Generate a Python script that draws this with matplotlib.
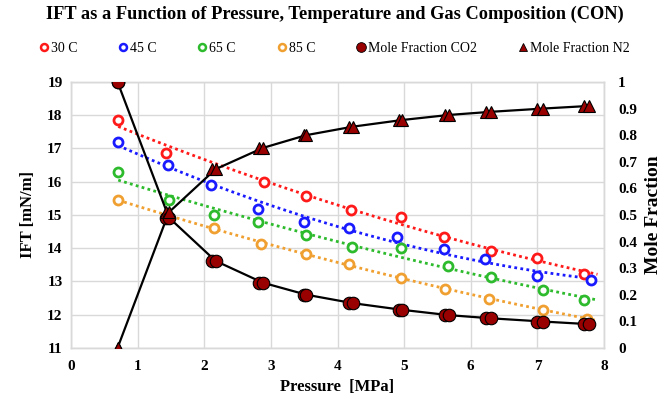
import numpy as np
import matplotlib
matplotlib.use("Agg")
import matplotlib.pyplot as plt
from matplotlib.lines import Line2D

# -----------------------------
# DATA
# -----------------------------
p_30 = [0.71, 1.43, 2.89, 3.52, 4.20, 4.95, 5.60, 6.30, 7.00, 7.70]
ift_30 = [17.86, 16.87, 15.98, 15.56, 15.15, 14.95, 14.33, 13.92, 13.70, 13.22]

p_45 = [0.71, 1.45, 2.10, 2.81, 3.49, 4.17, 4.90, 5.60, 6.22, 7.00, 7.80]
ift_45 = [17.20, 16.49, 15.89, 15.19, 14.80, 14.60, 14.34, 13.98, 13.67, 13.16, 13.04]

p_65 = [0.71, 1.47, 2.14, 2.81, 3.53, 4.21, 4.95, 5.66, 6.30, 7.08, 7.70]
ift_65 = [16.29, 15.45, 15.00, 14.78, 14.40, 14.03, 14.00, 13.47, 13.12, 12.74, 12.43]

p_85 = [0.71, 1.45, 2.15, 2.85, 3.53, 4.17, 4.95, 5.62, 6.28, 7.09, 7.74]
ift_85 = [15.45, 14.98, 14.60, 14.14, 13.83, 13.51, 13.10, 12.77, 12.48, 12.15, 11.88]

# mole fractions (two replicate runs at nearly the same pressure)
p_mol = [0.70, 1.42, 2.12, 2.82, 3.49, 4.17, 4.92, 5.61, 6.23, 7.00, 7.70]
p_mol_rep = [0.70, 1.47, 2.17, 2.88, 3.53, 4.23, 4.97, 5.67, 6.31, 7.08, 7.78]
x_co2 = [1.00, 0.49, 0.327, 0.245, 0.200, 0.168, 0.143, 0.123, 0.111, 0.099, 0.089]
x_n2 = [0.00, 0.51, 0.672, 0.752, 0.800, 0.832, 0.857, 0.876, 0.888, 0.900, 0.910]

# -----------------------------
# STYLE
# -----------------------------
plt.rcParams["font.family"] = ["Liberation Serif", "DejaVu Serif"]
plt.rcParams["font.weight"] = "bold"

C30, C45, C65, C85 = "#ff1a1a", "#1a1aff", "#2dbb2d", "#f0a030"
DARK = "#990000"

fig, ax = plt.subplots(figsize=(6.69, 3.98), dpi=100)
fig.subplots_adjust(left=0.106, right=0.903, top=0.794, bottom=0.126)
ax2 = ax.twinx()

# IFT series with trendlines
for px, py, col in [(p_30, ift_30, C30), (p_45, ift_45, C45),
                    (p_65, ift_65, C65), (p_85, ift_85, C85)]:
    px = np.array(px)
    py = np.array(py)
    coef = np.polyfit(px, py, 2)
    xs = np.linspace(px.min(), 7.9, 60)
    ax.plot(xs, np.polyval(coef, xs), ls=(0, (1, 1.2)), color=col, lw=2.0, zorder=2)
    ax.plot(px, py, "o", mfc="white", mec=col, mew=2.0, ms=6.5, zorder=3)

# mole fractions
ax2.plot(p_mol_rep, x_co2, "-", color="black", lw=1.6, zorder=4)
ax2.plot(p_mol_rep, x_n2, "-", color="black", lw=1.6, zorder=4)
for pp in (p_mol, p_mol_rep):
    ax2.plot(pp, x_co2, "o", mfc=DARK, mec="black", mew=0.8, ms=9, zorder=5)
    ax2.plot(pp, x_n2, "^", mfc=DARK, mec="black", mew=0.8, ms=8, zorder=5)

# axes
ax.set_xlim(0, 8)
ax.set_ylim(11, 19)
ax2.set_ylim(0, 1)
ax.set_xticks(range(0, 9))
ax.set_yticks(range(11, 20))
ax2.set_yticks(np.arange(0, 1.01, 0.1))
ax2.set_yticklabels(["0", "0.1", "0.2", "0.3", "0.4", "0.5", "0.6", "0.7",
                     "0.8", "0.9", "1"])
ax.grid(True, color="#d9d9d9", lw=1.0)
ax.set_axisbelow(True)

for a in (ax, ax2):
    a.tick_params(length=0, labelsize=11, pad=6)
    for s in a.spines.values():
        s.set_color("#d9d9d9")
        s.set_linewidth(1.0)
    for lab in a.get_xticklabels() + a.get_yticklabels():
        lab.set_fontweight("bold")
ax.tick_params(axis="x", pad=9)
ax2.tick_params(axis="y", pad=10)

ax.set_xlabel("Pressure  [MPa]", fontsize=12, fontweight="bold", labelpad=4)
ax.set_ylabel("IFT [mN/m]", fontsize=12, fontweight="bold", labelpad=8)
ax2.set_ylabel("Mole Fraction", fontsize=14, fontweight="bold", labelpad=6)

fig.suptitle("IFT as a Function of Pressure, Temperature and Gas Composition (CON)",
             fontsize=13.2, fontweight="bold", x=0.5, y=0.985)

handles = [
    Line2D([], [], ls="none", marker="o", mfc="white", mec=C30, mew=1.8, ms=5),
    Line2D([], [], ls="none", marker="o", mfc="white", mec=C45, mew=1.8, ms=5),
    Line2D([], [], ls="none", marker="o", mfc="white", mec=C65, mew=1.8, ms=5),
    Line2D([], [], ls="none", marker="o", mfc="white", mec=C85, mew=1.8, ms=5),
    Line2D([], [], ls="none", marker="o", mfc=DARK, mec="black", mew=0.6, ms=7),
    Line2D([], [], ls="none", marker="^", mfc=DARK, mec="black", mew=0.6, ms=6),
]
labels = ["30 C", "45 C", "65 C", "85 C", "Mole Fraction CO2", "Mole Fraction N2"]
fig.legend(handles, labels, loc="center", bbox_to_anchor=(0.5, 0.878), ncol=6,
           frameon=False, handlelength=0.6, handletextpad=0.2,
           columnspacing=3.0, prop={"weight": "normal", "size": 10})

fig.savefig("out.png", dpi=100)
